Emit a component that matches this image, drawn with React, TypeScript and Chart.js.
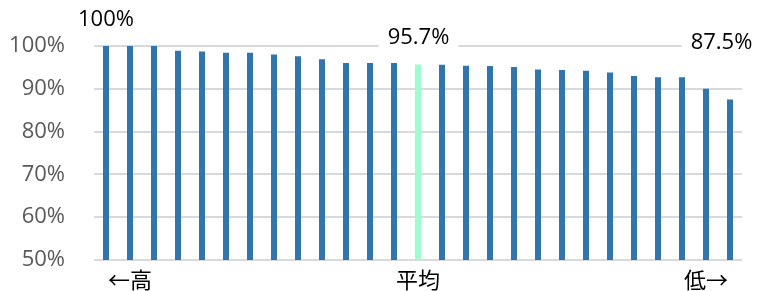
import React, { useEffect, useRef } from "react";
import { Chart, registerables } from "chart.js";

Chart.register(...registerables);

// ---- data ----
const categoryLabels: string[] = [
  "", "←高", "", "", "", "", "", "", "", "", "", "", "", "平均",
  "", "", "", "", "", "", "", "", "", "", "", "低→", "",
];
const rates: number[] = [
  100, 100, 100, 98.9, 98.7, 98.4, 98.4, 98.0, 97.6, 96.9, 96.0, 96.0, 96.0,
  95.7, 95.6, 95.4, 95.3, 95.1, 94.5, 94.4, 94.2, 93.8, 93.0, 92.7, 92.7,
  90.0, 87.5,
];
const averageIndex = 13;
const labelledIndices: number[] = [0, 13, 26];
const yTicks: number[] = [50, 60, 70, 80, 90, 100];

const BLUE = "#2E75B6";
const GREEN = "#99FFCC";
const FONT = "'Open Sans', 'Liberation Sans', sans-serif";
const CJK = "'Noto Sans CJK JP', 'Noto Sans CJK SC', sans-serif";

// label placement: level (in axis units) and horizontal nudge in px
const labelLevel: number[] = [106.1, 101.95, 100.8];
const labelNudge: number[] = [0, 0.5, -8.5];

const fmt = (v: number) => (Number.isInteger(v) ? `${v}%` : `${v.toFixed(1)}%`);

const labelPlugin = {
  id: "valueLabels",
  afterDatasetsDraw(chart: any) {
    const { ctx, scales } = chart;
    const xs = scales.x;
    const ys = scales.y;
    ctx.save();
    ctx.font = `22px ${FONT}`;
    ctx.textAlign = "center";
    ctx.textBaseline = "middle";
    labelledIndices.forEach((idx, k) => {
      const text = fmt(rates[idx]);
      const x = xs.getPixelForValue(idx) + labelNudge[k];
      const y = ys.getPixelForValue(labelLevel[k]);
      const w = ctx.measureText(text).width;
      ctx.fillStyle = "#ffffff";
      ctx.fillRect(x - w / 2 - 9, y - 14, w + 18, 28);
      ctx.fillStyle = "#000000";
      ctx.fillText(text, x, y);
    });
    ctx.restore();
  },
};

export default function App() {
  const ref = useRef<HTMLCanvasElement | null>(null);

  useEffect(() => {
    document.body.style.margin = "0";
    if (!ref.current) return;
    const chart = new Chart(ref.current, {
      type: "bar",
      data: {
        labels: categoryLabels,
        datasets: [
          {
            data: rates,
            backgroundColor: rates.map((_, i) => (i === averageIndex ? GREEN : BLUE)),
            barPercentage: 0.25,
            categoryPercentage: 1,
          },
        ],
      },
      options: {
        animation: false,
        responsive: false,
        layout: { padding: { top: 46, right: 16, left: 0, bottom: 0 } },
        plugins: { legend: { display: false }, tooltip: { enabled: false } },
        scales: {
          x: {
            offset: true,
            grid: { display: false, drawTicks: false },
            border: { display: false },
            ticks: {
              autoSkip: false,
              maxRotation: 0,
              minRotation: 0,
              padding: 6,
              color: "#000000",
              font: { family: CJK, size: 22 },
            },
            afterFit: (s: any) => {
              s.height = 31;
              s.paddingLeft = 0;
              s.paddingRight = 0;
            },
          },
          y: {
            min: 50,
            max: 100,
            afterBuildTicks: (s: any) => {
              s.ticks = yTicks.map((v) => ({ value: v }));
            },
            grid: { color: "#d9d9d9", lineWidth: 2, drawTicks: false },
            border: { display: false },
            ticks: {
              padding: 29,
              color: "#595959",
              font: { family: FONT, size: 22 },
              callback: (v: any) => `${v}%`,
            },
            afterFit: (s: any) => {
              s.width = 94;
              s.paddingTop = 0;
              s.paddingBottom = 0;
            },
          },
        },
      },
      plugins: [labelPlugin],
    });
    return () => chart.destroy();
  }, []);

  return (
    <div style={{ position: "absolute", left: 0, top: 0, width: 758, height: 291 }}>
      <canvas ref={ref} width={758} height={291} />
    </div>
  );
}
